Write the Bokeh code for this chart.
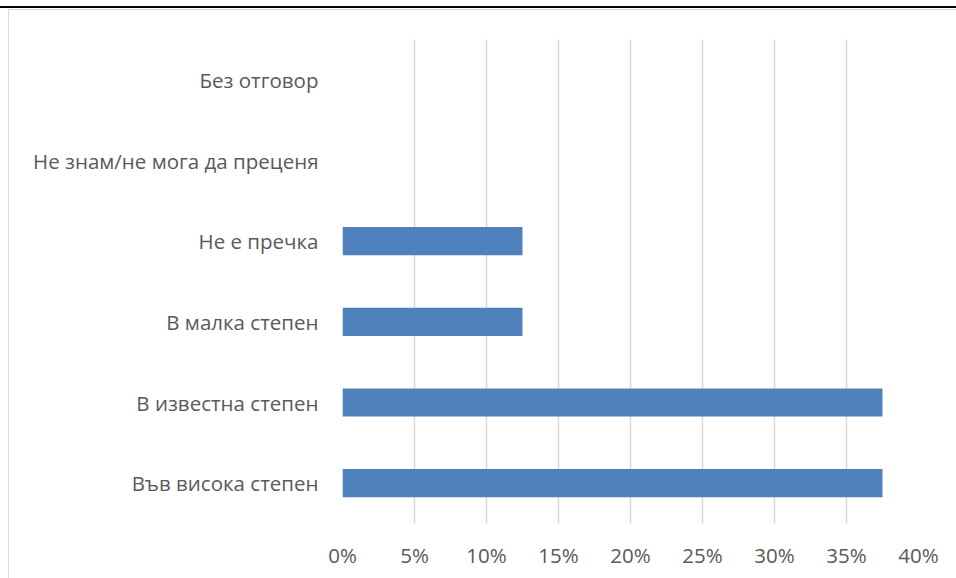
from bokeh.plotting import figure
from bokeh.models import FactorRange, Range1d, FixedTicker, NumeralTickFormatter, ColumnDataSource
from bokeh.embed import file_html
from bokeh.resources import INLINE

categories = ["Във висока степен", "В известна степен", "В малка степен",
              "Не е пречка", "Не знам/не мога да преценя", "Без отговор"]
values = [0.375, 0.375, 0.125, 0.125, 0.0, 0.0]
x_ticks = [0, 0.05, 0.10, 0.15, 0.20, 0.25, 0.30, 0.35, 0.40]

FONT = "Open Sans"
TXT = "#595959"

src = ColumnDataSource(dict(cat=categories, val=values))

p = figure(width=956, height=578, output_backend="svg", toolbar_location=None,
           y_range=FactorRange(factors=categories, range_padding=0),
           x_range=Range1d(0, 0.4),
           min_border_left=342, min_border_right=38, min_border_top=39, min_border_bottom=55)
p.styles = {
    "background": ("linear-gradient(#000,#000) 0px 6px / 100% 2px no-repeat, "
                   "linear-gradient(#d9d9d9,#d9d9d9) 8px 9px / 100% 1px no-repeat, "
                   "linear-gradient(#d9d9d9,#d9d9d9) 8px 9px / 1px 100% no-repeat, #ffffff"),
}

p.hbar(y="cat", right="val", left=0, height=0.35, source=src,
       fill_color="#4F81BD", line_color=None)

p.outline_line_color = None
p.background_fill_color = "white"
p.border_fill_alpha = 0

p.xaxis.ticker = FixedTicker(ticks=x_ticks)
p.xaxis.formatter = NumeralTickFormatter(format="0%")
for ax in (p.xaxis[0], p.yaxis[0]):
    ax.axis_line_color = None
    ax.major_tick_line_color = None
    ax.minor_tick_line_color = None
    ax.major_tick_out = 0
    ax.major_tick_in = 0
    ax.major_label_text_font = FONT
    ax.major_label_text_color = TXT
    ax.major_label_text_font_size = "20.5px"
p.xaxis.major_label_standoff = 17
p.yaxis.major_label_standoff = 24

p.xgrid.grid_line_color = "#D9D9D9"
p.xgrid.grid_line_width = 1.5
p.xgrid.ticker = FixedTicker(ticks=x_ticks)
p.ygrid.grid_line_color = None

open("out.html", "w").write(file_html(p, INLINE))
